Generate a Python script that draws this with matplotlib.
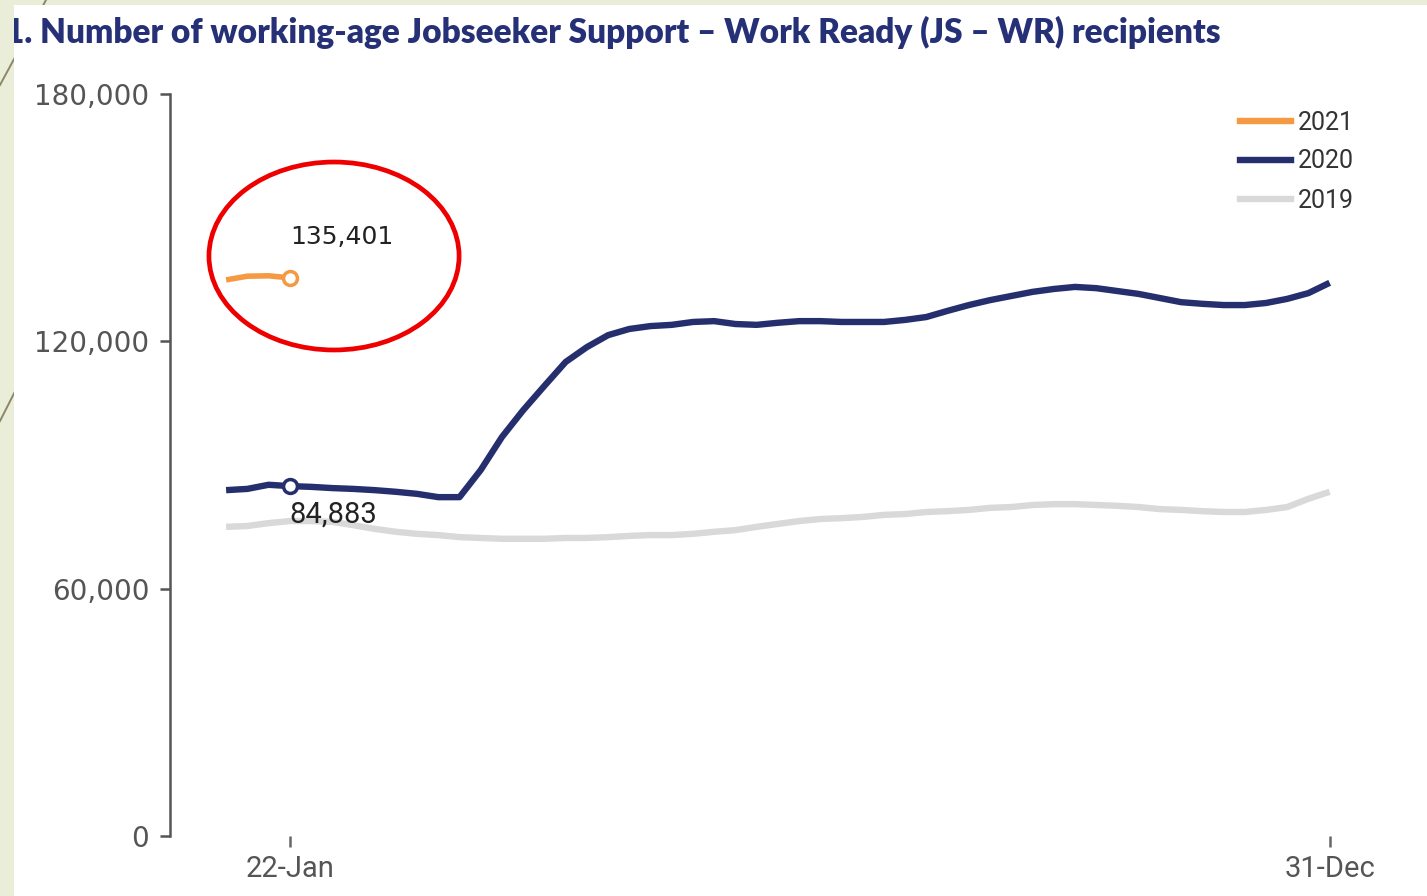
import numpy as np
import matplotlib
matplotlib.use("Agg")
import matplotlib.pyplot as plt
from matplotlib.lines import Line2D
from matplotlib.patches import Ellipse

# weekly recipient counts, day-of-year positions (1 Jan .. 31 Dec)
days = np.arange(1, 366, 7)

js_2020 = [83900, 84200, 85200, 84883, 84700, 84400, 84200, 83900, 83500, 83000,
           82200, 82200, 88800, 96800, 103300, 109200, 115000, 118600, 121500, 123000,
           123700, 124000, 124700, 124900, 124200, 124000, 124500, 124900, 124900, 124700,
           124700, 124700, 125200, 125900, 127400, 128800, 130000, 131000, 132000, 132700,
           133200, 132900, 132200, 131500, 130500, 129500, 129100, 128800, 128800, 129300,
           130300, 131700, 134200]

js_2019 = [75000, 75200, 75900, 76400, 76400, 76200, 75400, 74500, 73800, 73300,
           73000, 72500, 72300, 72100, 72100, 72100, 72300, 72300, 72500, 72800,
           73000, 73000, 73300, 73800, 74200, 75000, 75700, 76400, 76900, 77100,
           77400, 77900, 78100, 78600, 78800, 79100, 79600, 79800, 80300, 80500,
           80500, 80300, 80100, 79800, 79300, 79100, 78800, 78600, 78600, 79100,
           79800, 81800, 83500]

days_2021 = days[:4]
js_2021 = [134900, 135800, 135900, 135401]

years = ["2021", "2020", "2019"]
colors = {"2021": "#f59a43", "2020": "#262f6e", "2019": "#d9d9d9"}

yticks = [0, 60000, 120000, 180000]
xticks = [22, 365]
xticklabels = ["22-Jan", "31-Dec"]

title = "1. Number of working-age Jobseeker Support \u2013 Work Ready (JS \u2013 WR) recipients"

W, H = 1427, 896
fig = plt.figure(figsize=(W / 100, H / 100), dpi=100)
fig.patch.set_facecolor("#eaeed9")

# slide decoration lines behind the white panel
for (x0, y0), (x1, y1) in [((46, 0), (0, 85)), ((32, 358), (0, 421))]:
    fig.add_artist(Line2D([x0 / W, x1 / W], [1 - y0 / H, 1 - y1 / H],
                          transform=fig.transFigure, color="#8d8668", lw=1.4, zorder=-1))

# white panel holding the chart
bg = fig.add_axes([14 / W, 0, (W - 14) / W, (H - 5) / H])
bg.set_xlim(14, W)
bg.set_ylim(H, 5)
bg.set_facecolor("white")
for s in bg.spines.values():
    s.set_visible(False)
bg.set_xticks([])
bg.set_yticks([])
bg.text(5, 32, title, fontsize=24, fontweight="heavy", family="Lato",
        color="#263077", va="center", ha="left", clip_on=True)

ax = fig.add_axes([170 / W, 60 / H, 1210 / W, 742 / H])
ax.set_facecolor("none")
ax.set_xlim(-17.5, 381.6)
ax.set_ylim(0, 180000)

line_kw = dict(solid_capstyle="butt", solid_joinstyle="round")
ax.plot(days, js_2019, color=colors["2019"], lw=4.6, label="2019", **line_kw)
ax.plot(days, js_2020, color=colors["2020"], lw=4.6, label="2020", **line_kw)
ax.plot(days_2021, js_2021, color=colors["2021"], lw=4.0, label="2021", **line_kw)

# highlighted 22-Jan values
ax.plot(days_2021[-1], js_2021[-1], "o", ms=10, mfc="white", mec=colors["2021"], mew=2.5)
ax.plot(days[3], js_2020[3], "o", ms=10, mfc="white", mec=colors["2020"], mew=2.5)
ax.text(days_2021[-1], js_2021[-1] + 10000, f"{js_2021[-1]:,}", fontsize=18,
        family="DejaVu Sans", color="#222222", va="center", ha="left")
ax.text(days[3], js_2020[3] - 7000, f"{js_2020[3]:,}", fontsize=21,
        family="Roboto", color="#222222", va="center", ha="left")

ax.add_patch(Ellipse((36.6, 140700), 82.5, 45600, fill=False, ec="#ee0000",
                     lw=3.4, clip_on=False))

for side in ["top", "right", "bottom"]:
    ax.spines[side].set_visible(False)
ax.spines["left"].set_color("#555555")
ax.spines["left"].set_linewidth(1.8)
ax.spines["left"].set_bounds(0, 180000)

ax.set_yticks(yticks)
ax.set_yticklabels([f"{v:,}" for v in yticks], fontsize=20, family="DejaVu Sans", color="#555555")
ax.tick_params(axis="y", length=7, width=1.8, color="#555555", pad=8)
ax.set_xticks(xticks)
ax.set_xticklabels(xticklabels, fontsize=21, family="Roboto", color="#555555")
ax.tick_params(axis="x", length=8, width=1.8, color="#666666", pad=6)

handles = [Line2D([], [], color=colors[y], lw=4.6) for y in years]
ax.legend(handles, years, loc="upper left", bbox_to_anchor=(1227 / W, 1 - 98 / H),
          bbox_transform=fig.transFigure, frameon=False, handlelength=2.05,
          handletextpad=0.3, labelspacing=0.6, borderpad=0,
          prop={"family": "Roboto", "size": 18}, labelcolor="#333333")

fig.savefig("out.png", dpi=100, facecolor=fig.get_facecolor())
